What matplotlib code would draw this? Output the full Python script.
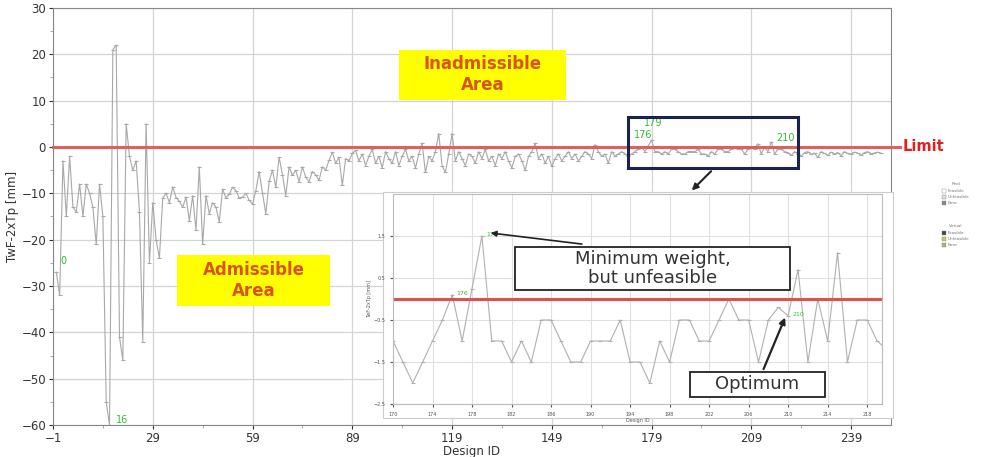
import matplotlib
matplotlib.use("Agg")
import matplotlib.pyplot as plt
import matplotlib.transforms as mtrans
from matplotlib.patches import Rectangle
import numpy as np

# design IDs 0..248 and TwF-2xTp values [mm]
vals_0_34 = [-27, -32, -3, -15, -2, -13, -14, -8, -15, -8, -10, -13, -21, -8, -15,
             -55, -60, 21, 22, -41, -46, 5, -2, -5, -3, -14, -42, 5, -25, -12,
             -20, -24, -11, -10, -12]
vals_35_90 = [-8.6, -10.9, -11.7, -13, -10.8, -15.9, -10.5, -18, -4.3, -21, -10.5, -14.4,
              -12, -13, -16.2, -9.1, -11, -10.2, -8.7, -9.4, -11, -10.8, -10, -11.5, -12.3,
              -9.4, -5.3, -10, -14.4, -7.4, -5, -8.7, -2.2, -6, -10.5, -4.3, -6.1, -5, -7.5,
              -4.3, -6.5, -7.5, -5.3, -6, -7.2, -4.3, -5, -2.9, -1.1, -3.5, -2.2, -8.3, -2.5,
              -3, -1.4, -0.7]
vals_91_169 = [-3, -1.5, -4, -2, -0.5, -3.5, -2, -4.5, -1, -2.5, -3.5, -1, -4, -2, -0.5,
               -3, -2, -4.5, -1.5, 0.8, -5.5, -2, -3, -1, 2.9, -4, -5.5, -1.5, 2.9, -3,
               -1, -2.5, -4, -1.5, -2, -3.5, -1, -2.5, -0.5, -3, -2, -4, -1.5, -2.5, -1,
               -3, -4.5, -2, -1.5, -3, -5, -2, -1, 0.8, -2.5, -1.5, -3.5, -2, -4.2, -2.5,
               -1.5, -3, -2, -1, -2.5, -1.5, -3, -2, -1, -1.5, -2.5, 0.5, -1, -2, -1.5,
               -3.5, -1, -2, -1.5]
vals_170_219 = [-1, -1.5, -2, -1.5, -1, -0.5, 0.1, -1, 0.25, 1.5, -1, -1, -1.5, -1, -1.5,
                -0.5, -0.5, -1, -1.5, -1.5, -1, -1, -1, -0.5, -1.5, -1.5, -2, -1, -1.5,
                -0.5, -0.5, -1, -1, -0.5, 0, -0.5, -0.5, -1.5, -0.5, -0.2, -0.4, 0.7,
                -1.5, 0, -1, 1.1, -1.5, -0.5, -0.5, -1]
vals_220_248 = [-1.2, -1.8, -1, -1.5, -2, -1.2, -1, -1.6, -1.3, -2.2, -1, -1.4, -1.8, -1.1,
                -1.5, -1.2, -1.9, -1, -1.4, -1.6, -1.1, -1.3, -1.8, -1.2, -1, -1.5, -1.3,
                -1.1, -1.4]

values = np.array(vals_0_34 + vals_35_90 + vals_91_169 + vals_170_219 + vals_220_248)
ids = np.arange(len(values))

main_labels = [0, 16, 176, 179, 210]
inset_labels = [176, 179, 210]
limit = 0

W, H = 992, 457
fig = plt.figure(figsize=(W / 100, H / 100), dpi=100)

def fbox(x0, y0, x1, y1):
    return [x0 / W, 1 - y1 / H, (x1 - x0) / W, (y1 - y0) / H]

ax = fig.add_axes(fbox(53, 8, 891, 425))
ax.plot(ids, values, color="#a8a8a8", lw=0.8, marker="_", ms=3, mew=0.8, zorder=2)
ax.set_xlim(-1, 251)
ax.set_ylim(-60, 30)
ax.set_xticks(np.arange(-1, 240, 30))
ax.set_xticks(np.arange(14, 250, 30), minor=True)
ax.set_yticks(np.arange(-60, 31, 10))
ax.set_yticks(np.arange(-55, 30, 10), minor=True)
ax.grid(True, which="major", color="#d4d4d4", lw=0.9)
ax.tick_params(labelsize=8.5, colors="#333333", length=3, pad=2)
ax.tick_params(which="minor", length=2, color="#999999")
for s in ax.spines.values():
    s.set_color("#888888")
ax.set_xlabel("Design ID", fontsize=8.5, color="#333333", labelpad=0)
ax.set_ylabel("TwF-2xTp [mm]", fontsize=8.5, color="#333333", labelpad=2)

trans = mtrans.blended_transform_factory(ax.transAxes, ax.transData)
ax.plot([0, 1.011], [limit, limit], transform=trans, color="#e06060", lw=2.2,
        clip_on=False, zorder=3)
ax.text(1.014, limit, "Limit", transform=trans, color="#e02020", fontsize=10.5,
        fontweight="bold", va="center", ha="left")

main_offsets = {0: (4, 8), 16: (6, 2), 176: (-8, 9), 179: (-8, 14), 210: (22, 8)}
for i in main_labels:
    ax.annotate(str(i), (ids[i], values[i]), xytext=main_offsets[i],
                textcoords="offset pixels", color="#33bb33", fontsize=7, zorder=4)

# yellow area labels
ax.add_patch(Rectangle((103, 10.2), 50.3, 10.8, fc="#ffff00", ec="none", zorder=4))
ax.text(128.2, 15.6, "Inadmissible\nArea", ha="center", va="center", fontsize=12,
        fontweight="bold", color="#d9531e", linespacing=1.25, zorder=5)
ax.add_patch(Rectangle((36.3, -34.3), 46.1, 11, fc="#ffff00", ec="none", zorder=4))
ax.text(59.3, -28.8, "Admissible\nArea", ha="center", va="center", fontsize=12,
        fontweight="bold", color="#d9531e", linespacing=1.25, zorder=5)

ax.add_patch(Rectangle((172, -4.6), 51, 11, fill=False, ec="#1c2250", lw=2.2, zorder=5))
ax.annotate("", xy=(190.5, -9.8), xytext=(197.5, -4.8),
            arrowprops=dict(arrowstyle="-|>", color="#222222", lw=1.5, mutation_scale=9))

# white panel behind the zoom-in
fig.patches.append(Rectangle((383 / W, 1 - 418 / H), 510 / W, 226 / H, transform=fig.transFigure,
                             fc="white", ec="#cccccc", lw=0.8, zorder=5))

ins = fig.add_axes(fbox(393, 194, 882, 404))
ins.set_zorder(6)
ins.plot(ids, values, color="#b0b0b0", lw=0.8, marker="_", ms=3, mew=0.8)
ins.set_xlim(170, 219.5)
ins.set_ylim(-2.5, 2.5)
ins.set_xticks(np.arange(170, 219, 4))
ins.set_yticks(np.arange(-2.5, 2.0, 1))
ins.grid(True, color="#e0e0e0", lw=0.8)
ins.tick_params(labelsize=3.5, colors="#555555", length=2)
for s in ins.spines.values():
    s.set_color("#bbbbbb")
ins.set_xlabel("Design ID", fontsize=3.5, color="#555555", labelpad=1)
ins.set_ylabel("TwF-2xTp [mm]", fontsize=3.5, color="#555555", labelpad=1)
ins.axhline(limit, color="#e05050", lw=2.2)
for i in inset_labels:
    ins.annotate(str(i), (ids[i], values[i]), xytext=(4, 0), textcoords="offset pixels",
                 color="#33bb33", fontsize=4.5)

# callouts
ins.add_patch(Rectangle((182.4, 0.21), 27.8, 1.03, fc="white", ec="#222222", lw=1.3, zorder=5))
ins.text(196.3, 0.73, "Minimum weight,\nbut unfeasible", ha="center", va="center",
         fontsize=13, color="#333333", linespacing=1.1, zorder=6)
ins.annotate("", xy=(179.6, 1.58), xytext=(189.4, 1.3),
             arrowprops=dict(arrowstyle="-|>", color="#222222", lw=1.2, mutation_scale=8))
ins.add_patch(Rectangle((200.1, -2.33), 13.6, 0.6, fc="white", ec="#222222", lw=1.3, zorder=5))
ins.text(206.9, -2.03, "Optimum", ha="center", va="center", fontsize=13,
         color="#333333", zorder=6)
ins.annotate("", xy=(209.8, -0.38), xytext=(207.4, -1.73),
             arrowprops=dict(arrowstyle="-|>", color="#222222", lw=1.6, mutation_scale=9))

# tiny legend on the right
leg_x = 946 / W
rows = [("Real", 184, None), ("Feasible", 191, "#ffffff"), ("Unfeasible", 197, "#dddddd"),
        ("Error", 203, "#888888"), ("Virtual", 226, None), ("Feasible", 233, "#444444"),
        ("Unfeasible", 239, "#d8c060"), ("Error", 245, "#b0b080")]
for lab, yy, col in rows:
    if col is None:
        fig.text(leg_x + 0.01, 1 - yy / H, lab, fontsize=3, color="#777777", ha="center", va="center")
    else:
        fig.patches.append(Rectangle((leg_x - 0.004, 1 - (yy + 2) / H), 4 / W, 4 / H,
                                     transform=fig.transFigure, fc=col, ec="#888888", lw=0.3))
        fig.text(leg_x + 0.002, 1 - yy / H, lab, fontsize=3, color="#777777", va="center")

fig.savefig("out.png", dpi=100)
